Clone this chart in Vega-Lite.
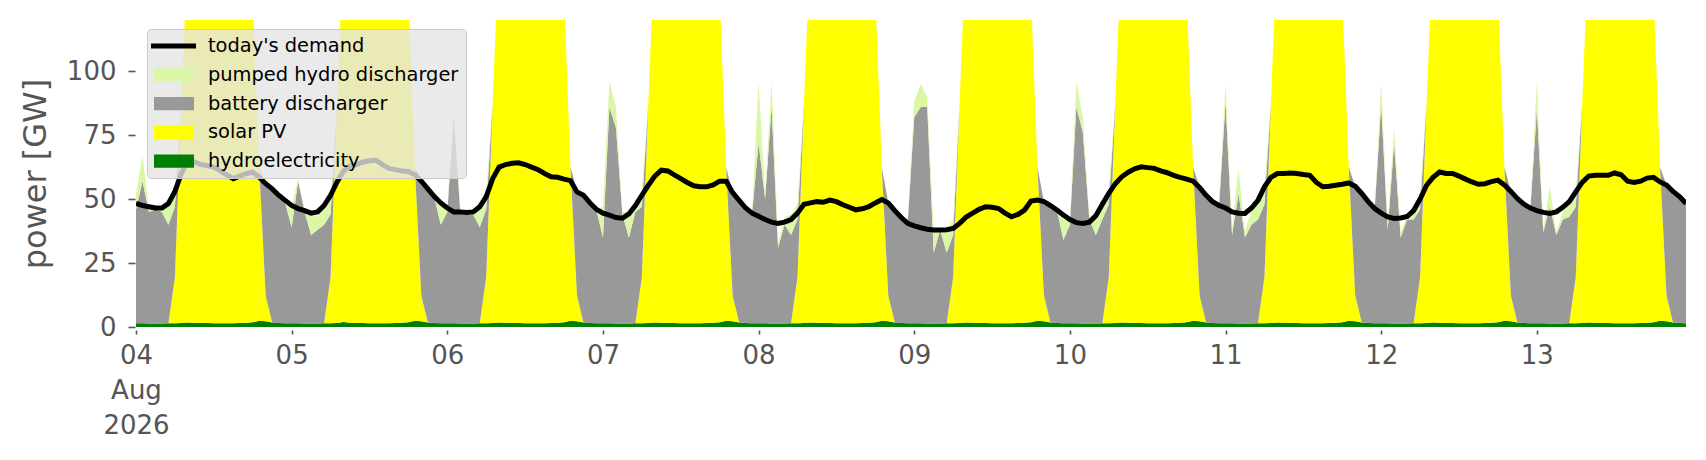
{
  "$schema": "https://vega.github.io/schema/vega-lite/v6.json",
  "width": 1550,
  "height": 307,
  "autosize": {"type": "none"},
  "padding": {"left": 136, "top": 20, "right": 20, "bottom": 133},
  "background": "white",
  "config": {"view": {"stroke": null}, "font": "DejaVu Sans"},
  "data": {
    "values": [
      {"t":"2026-08-04T00:00","a_hydro":1.5,"b_solar":0,"c_battery":44.5,"d_pumped":6,"demand":48.3},
      {"t":"2026-08-04T01:00","a_hydro":1.5,"b_solar":0,"c_battery":55.5,"d_pumped":10,"demand":47.5},
      {"t":"2026-08-04T02:00","a_hydro":1.4,"b_solar":0,"c_battery":43.6,"d_pumped":1,"demand":47},
      {"t":"2026-08-04T03:00","a_hydro":1.4,"b_solar":0,"c_battery":44.6,"d_pumped":0.5,"demand":46.5},
      {"t":"2026-08-04T04:00","a_hydro":1.4,"b_solar":0,"c_battery":43.6,"d_pumped":1,"demand":46.5},
      {"t":"2026-08-04T05:00","a_hydro":1.5,"b_solar":0,"c_battery":38.5,"d_pumped":8,"demand":48.3},
      {"t":"2026-08-04T06:00","a_hydro":1.5,"b_solar":18,"c_battery":27.5,"d_pumped":7,"demand":53},
      {"t":"2026-08-04T07:00","a_hydro":1.6,"b_solar":86,"c_battery":0,"d_pumped":0,"demand":60},
      {"t":"2026-08-04T08:00","a_hydro":1.8,"b_solar":150,"c_battery":0,"d_pumped":0,"demand":65},
      {"t":"2026-08-04T09:00","a_hydro":1.7,"b_solar":180,"c_battery":0,"d_pumped":0,"demand":64.5},
      {"t":"2026-08-04T10:00","a_hydro":1.6,"b_solar":200,"c_battery":0,"d_pumped":0,"demand":63.5},
      {"t":"2026-08-04T11:00","a_hydro":1.6,"b_solar":210,"c_battery":0,"d_pumped":0,"demand":63},
      {"t":"2026-08-04T12:00","a_hydro":1.5,"b_solar":212,"c_battery":0,"d_pumped":0,"demand":62.5},
      {"t":"2026-08-04T13:00","a_hydro":1.5,"b_solar":205,"c_battery":0,"d_pumped":0,"demand":61},
      {"t":"2026-08-04T14:00","a_hydro":1.5,"b_solar":192,"c_battery":0,"d_pumped":0,"demand":59.5},
      {"t":"2026-08-04T15:00","a_hydro":1.5,"b_solar":176,"c_battery":0,"d_pumped":0,"demand":58},
      {"t":"2026-08-04T16:00","a_hydro":1.6,"b_solar":160,"c_battery":0,"d_pumped":0,"demand":59},
      {"t":"2026-08-04T17:00","a_hydro":1.7,"b_solar":145,"c_battery":0,"d_pumped":0,"demand":60},
      {"t":"2026-08-04T18:00","a_hydro":1.9,"b_solar":128,"c_battery":0,"d_pumped":0,"demand":60.5},
      {"t":"2026-08-04T19:00","a_hydro":2.4,"b_solar":60,"c_battery":0,"d_pumped":0,"demand":58.5},
      {"t":"2026-08-04T20:00","a_hydro":2.2,"b_solar":10,"c_battery":43.3,"d_pumped":0.5,"demand":56},
      {"t":"2026-08-04T21:00","a_hydro":1.8,"b_solar":0,"c_battery":51.2,"d_pumped":0.5,"demand":54},
      {"t":"2026-08-04T22:00","a_hydro":1.6,"b_solar":0,"c_battery":49.4,"d_pumped":0.5,"demand":51.5},
      {"t":"2026-08-04T23:00","a_hydro":1.5,"b_solar":0,"c_battery":47,"d_pumped":1,"demand":49.5},
      {"t":"2026-08-05T00:00","a_hydro":1.5,"b_solar":0,"c_battery":37.5,"d_pumped":8,"demand":47.5},
      {"t":"2026-08-05T01:00","a_hydro":1.5,"b_solar":0,"c_battery":55.5,"d_pumped":1,"demand":46.3},
      {"t":"2026-08-05T02:00","a_hydro":1.4,"b_solar":0,"c_battery":43.6,"d_pumped":0.5,"demand":45.5},
      {"t":"2026-08-05T03:00","a_hydro":1.4,"b_solar":0,"c_battery":34.6,"d_pumped":8,"demand":44.5},
      {"t":"2026-08-05T04:00","a_hydro":1.4,"b_solar":0,"c_battery":36.6,"d_pumped":5,"demand":45},
      {"t":"2026-08-05T05:00","a_hydro":1.5,"b_solar":0,"c_battery":38.5,"d_pumped":8,"demand":47.5},
      {"t":"2026-08-05T06:00","a_hydro":1.5,"b_solar":18,"c_battery":24.5,"d_pumped":6,"demand":51.5},
      {"t":"2026-08-05T07:00","a_hydro":1.6,"b_solar":86,"c_battery":0,"d_pumped":0,"demand":56.7},
      {"t":"2026-08-05T08:00","a_hydro":2.0,"b_solar":148,"c_battery":0,"d_pumped":0,"demand":61},
      {"t":"2026-08-05T09:00","a_hydro":1.7,"b_solar":178,"c_battery":0,"d_pumped":0,"demand":63},
      {"t":"2026-08-05T10:00","a_hydro":1.6,"b_solar":198,"c_battery":0,"d_pumped":0,"demand":63.5},
      {"t":"2026-08-05T11:00","a_hydro":1.6,"b_solar":208,"c_battery":0,"d_pumped":0,"demand":64.5},
      {"t":"2026-08-05T12:00","a_hydro":1.5,"b_solar":210,"c_battery":0,"d_pumped":0,"demand":65},
      {"t":"2026-08-05T13:00","a_hydro":1.5,"b_solar":204,"c_battery":0,"d_pumped":0,"demand":65.2},
      {"t":"2026-08-05T14:00","a_hydro":1.5,"b_solar":190,"c_battery":0,"d_pumped":0,"demand":63.5},
      {"t":"2026-08-05T15:00","a_hydro":1.5,"b_solar":175,"c_battery":0,"d_pumped":0,"demand":62},
      {"t":"2026-08-05T16:00","a_hydro":1.6,"b_solar":160,"c_battery":0,"d_pumped":0,"demand":61.5},
      {"t":"2026-08-05T17:00","a_hydro":1.7,"b_solar":145,"c_battery":0,"d_pumped":0,"demand":61},
      {"t":"2026-08-05T18:00","a_hydro":1.9,"b_solar":128,"c_battery":0,"d_pumped":0,"demand":60.8},
      {"t":"2026-08-05T19:00","a_hydro":2.4,"b_solar":60,"c_battery":0,"d_pumped":0,"demand":59.5},
      {"t":"2026-08-05T20:00","a_hydro":2.2,"b_solar":10,"c_battery":44.8,"d_pumped":0.5,"demand":57},
      {"t":"2026-08-05T21:00","a_hydro":1.8,"b_solar":0,"c_battery":52.2,"d_pumped":0.5,"demand":54},
      {"t":"2026-08-05T22:00","a_hydro":1.6,"b_solar":0,"c_battery":48.9,"d_pumped":0.5,"demand":51},
      {"t":"2026-08-05T23:00","a_hydro":1.5,"b_solar":0,"c_battery":38.5,"d_pumped":8,"demand":48.5},
      {"t":"2026-08-06T00:00","a_hydro":1.5,"b_solar":0,"c_battery":43.5,"d_pumped":2,"demand":46.5},
      {"t":"2026-08-06T01:00","a_hydro":1.5,"b_solar":0,"c_battery":81.5,"d_pumped":2,"demand":45},
      {"t":"2026-08-06T02:00","a_hydro":1.4,"b_solar":0,"c_battery":43.6,"d_pumped":1,"demand":45},
      {"t":"2026-08-06T03:00","a_hydro":1.4,"b_solar":0,"c_battery":42.6,"d_pumped":1,"demand":44.8},
      {"t":"2026-08-06T04:00","a_hydro":1.4,"b_solar":0,"c_battery":42.6,"d_pumped":1.5,"demand":45},
      {"t":"2026-08-06T05:00","a_hydro":1.5,"b_solar":0,"c_battery":37.5,"d_pumped":9,"demand":47},
      {"t":"2026-08-06T06:00","a_hydro":1.5,"b_solar":18,"c_battery":26.5,"d_pumped":6,"demand":51},
      {"t":"2026-08-06T07:00","a_hydro":1.6,"b_solar":86,"c_battery":0,"d_pumped":0,"demand":58},
      {"t":"2026-08-06T08:00","a_hydro":1.8,"b_solar":150,"c_battery":0,"d_pumped":0,"demand":62.5},
      {"t":"2026-08-06T09:00","a_hydro":1.7,"b_solar":182,"c_battery":0,"d_pumped":0,"demand":63.5},
      {"t":"2026-08-06T10:00","a_hydro":1.6,"b_solar":202,"c_battery":0,"d_pumped":0,"demand":64},
      {"t":"2026-08-06T11:00","a_hydro":1.6,"b_solar":212,"c_battery":0,"d_pumped":0,"demand":64.2},
      {"t":"2026-08-06T12:00","a_hydro":1.5,"b_solar":214,"c_battery":0,"d_pumped":0,"demand":63.5},
      {"t":"2026-08-06T13:00","a_hydro":1.5,"b_solar":206,"c_battery":0,"d_pumped":0,"demand":62.5},
      {"t":"2026-08-06T14:00","a_hydro":1.5,"b_solar":193,"c_battery":0,"d_pumped":0,"demand":61.5},
      {"t":"2026-08-06T15:00","a_hydro":1.5,"b_solar":177,"c_battery":0,"d_pumped":0,"demand":60},
      {"t":"2026-08-06T16:00","a_hydro":1.6,"b_solar":161,"c_battery":0,"d_pumped":0,"demand":58.7},
      {"t":"2026-08-06T17:00","a_hydro":1.7,"b_solar":146,"c_battery":0,"d_pumped":0,"demand":58.5},
      {"t":"2026-08-06T18:00","a_hydro":1.9,"b_solar":128,"c_battery":0,"d_pumped":0,"demand":57.8},
      {"t":"2026-08-06T19:00","a_hydro":2.4,"b_solar":60,"c_battery":0,"d_pumped":0,"demand":57.2},
      {"t":"2026-08-06T20:00","a_hydro":2.2,"b_solar":10,"c_battery":40.8,"d_pumped":0.5,"demand":52.8},
      {"t":"2026-08-06T21:00","a_hydro":1.8,"b_solar":0,"c_battery":49.2,"d_pumped":0.5,"demand":51.5},
      {"t":"2026-08-06T22:00","a_hydro":1.6,"b_solar":0,"c_battery":46.4,"d_pumped":0.5,"demand":48.5},
      {"t":"2026-08-06T23:00","a_hydro":1.5,"b_solar":0,"c_battery":44,"d_pumped":0.5,"demand":46},
      {"t":"2026-08-07T00:00","a_hydro":1.5,"b_solar":0,"c_battery":33.5,"d_pumped":12,"demand":44.5},
      {"t":"2026-08-07T01:00","a_hydro":1.5,"b_solar":0,"c_battery":84.5,"d_pumped":10,"demand":43.7},
      {"t":"2026-08-07T02:00","a_hydro":1.4,"b_solar":0,"c_battery":76.6,"d_pumped":8,"demand":42.8},
      {"t":"2026-08-07T03:00","a_hydro":1.4,"b_solar":0,"c_battery":42.6,"d_pumped":1,"demand":42.5},
      {"t":"2026-08-07T04:00","a_hydro":1.4,"b_solar":0,"c_battery":33.6,"d_pumped":10,"demand":44.2},
      {"t":"2026-08-07T05:00","a_hydro":1.5,"b_solar":0,"c_battery":43.5,"d_pumped":4,"demand":47.5},
      {"t":"2026-08-07T06:00","a_hydro":1.5,"b_solar":18,"c_battery":27.5,"d_pumped":6,"demand":51.5},
      {"t":"2026-08-07T07:00","a_hydro":1.6,"b_solar":86,"c_battery":0,"d_pumped":0,"demand":55.4},
      {"t":"2026-08-07T08:00","a_hydro":1.8,"b_solar":150,"c_battery":0,"d_pumped":0,"demand":59},
      {"t":"2026-08-07T09:00","a_hydro":1.7,"b_solar":180,"c_battery":0,"d_pumped":0,"demand":61.3},
      {"t":"2026-08-07T10:00","a_hydro":1.6,"b_solar":200,"c_battery":0,"d_pumped":0,"demand":61},
      {"t":"2026-08-07T11:00","a_hydro":1.6,"b_solar":210,"c_battery":0,"d_pumped":0,"demand":59.5},
      {"t":"2026-08-07T12:00","a_hydro":1.5,"b_solar":212,"c_battery":0,"d_pumped":0,"demand":58},
      {"t":"2026-08-07T13:00","a_hydro":1.5,"b_solar":205,"c_battery":0,"d_pumped":0,"demand":56.5},
      {"t":"2026-08-07T14:00","a_hydro":1.5,"b_solar":192,"c_battery":0,"d_pumped":0,"demand":55.2},
      {"t":"2026-08-07T15:00","a_hydro":1.5,"b_solar":176,"c_battery":0,"d_pumped":0,"demand":54.8},
      {"t":"2026-08-07T16:00","a_hydro":1.6,"b_solar":160,"c_battery":0,"d_pumped":0,"demand":54.8},
      {"t":"2026-08-07T17:00","a_hydro":1.7,"b_solar":145,"c_battery":0,"d_pumped":0,"demand":55.5},
      {"t":"2026-08-07T18:00","a_hydro":1.9,"b_solar":128,"c_battery":0,"d_pumped":0,"demand":57},
      {"t":"2026-08-07T19:00","a_hydro":2.4,"b_solar":60,"c_battery":0,"d_pumped":0,"demand":57},
      {"t":"2026-08-07T20:00","a_hydro":2.2,"b_solar":10,"c_battery":40.3,"d_pumped":0.5,"demand":52.5},
      {"t":"2026-08-07T21:00","a_hydro":1.8,"b_solar":0,"c_battery":47.7,"d_pumped":0.5,"demand":49.5},
      {"t":"2026-08-07T22:00","a_hydro":1.6,"b_solar":0,"c_battery":44.9,"d_pumped":0.5,"demand":46.5},
      {"t":"2026-08-07T23:00","a_hydro":1.5,"b_solar":0,"c_battery":43,"d_pumped":0.5,"demand":44.5},
      {"t":"2026-08-08T00:00","a_hydro":1.5,"b_solar":0,"c_battery":70.5,"d_pumped":24,"demand":43.3},
      {"t":"2026-08-08T01:00","a_hydro":1.5,"b_solar":0,"c_battery":48.5,"d_pumped":2,"demand":42},
      {"t":"2026-08-08T02:00","a_hydro":1.4,"b_solar":0,"c_battery":84.6,"d_pumped":10,"demand":41},
      {"t":"2026-08-08T03:00","a_hydro":1.4,"b_solar":0,"c_battery":29.6,"d_pumped":2,"demand":40.5},
      {"t":"2026-08-08T04:00","a_hydro":1.4,"b_solar":0,"c_battery":38.6,"d_pumped":3,"demand":41},
      {"t":"2026-08-08T05:00","a_hydro":1.5,"b_solar":0,"c_battery":34.5,"d_pumped":8,"demand":42},
      {"t":"2026-08-08T06:00","a_hydro":1.5,"b_solar":18,"c_battery":22.5,"d_pumped":6,"demand":44.5},
      {"t":"2026-08-08T07:00","a_hydro":1.6,"b_solar":86,"c_battery":0,"d_pumped":0,"demand":48},
      {"t":"2026-08-08T08:00","a_hydro":1.8,"b_solar":150,"c_battery":0,"d_pumped":0,"demand":48.5},
      {"t":"2026-08-08T09:00","a_hydro":1.7,"b_solar":180,"c_battery":0,"d_pumped":0,"demand":49},
      {"t":"2026-08-08T10:00","a_hydro":1.6,"b_solar":200,"c_battery":0,"d_pumped":0,"demand":48.8},
      {"t":"2026-08-08T11:00","a_hydro":1.6,"b_solar":210,"c_battery":0,"d_pumped":0,"demand":49.6},
      {"t":"2026-08-08T12:00","a_hydro":1.5,"b_solar":212,"c_battery":0,"d_pumped":0,"demand":49},
      {"t":"2026-08-08T13:00","a_hydro":1.5,"b_solar":205,"c_battery":0,"d_pumped":0,"demand":47.8},
      {"t":"2026-08-08T14:00","a_hydro":1.5,"b_solar":192,"c_battery":0,"d_pumped":0,"demand":46.8},
      {"t":"2026-08-08T15:00","a_hydro":1.5,"b_solar":176,"c_battery":0,"d_pumped":0,"demand":45.8},
      {"t":"2026-08-08T16:00","a_hydro":1.6,"b_solar":160,"c_battery":0,"d_pumped":0,"demand":46.2},
      {"t":"2026-08-08T17:00","a_hydro":1.7,"b_solar":145,"c_battery":0,"d_pumped":0,"demand":47},
      {"t":"2026-08-08T18:00","a_hydro":1.9,"b_solar":128,"c_battery":0,"d_pumped":0,"demand":48.5},
      {"t":"2026-08-08T19:00","a_hydro":2.4,"b_solar":60,"c_battery":0,"d_pumped":0,"demand":49.8},
      {"t":"2026-08-08T20:00","a_hydro":2.2,"b_solar":10,"c_battery":36.3,"d_pumped":0.5,"demand":48.5},
      {"t":"2026-08-08T21:00","a_hydro":1.8,"b_solar":0,"c_battery":43.2,"d_pumped":0.5,"demand":45.5},
      {"t":"2026-08-08T22:00","a_hydro":1.6,"b_solar":0,"c_battery":41.2,"d_pumped":0.5,"demand":42.8},
      {"t":"2026-08-08T23:00","a_hydro":1.5,"b_solar":0,"c_battery":39.5,"d_pumped":0.5,"demand":40.5},
      {"t":"2026-08-09T00:00","a_hydro":1.5,"b_solar":0,"c_battery":80.5,"d_pumped":6,"demand":39.5},
      {"t":"2026-08-09T01:00","a_hydro":1.5,"b_solar":0,"c_battery":84.5,"d_pumped":9,"demand":38.8},
      {"t":"2026-08-09T02:00","a_hydro":1.4,"b_solar":0,"c_battery":84.6,"d_pumped":4,"demand":38.2},
      {"t":"2026-08-09T03:00","a_hydro":1.4,"b_solar":0,"c_battery":27.6,"d_pumped":9,"demand":37.9},
      {"t":"2026-08-09T04:00","a_hydro":1.4,"b_solar":0,"c_battery":36.6,"d_pumped":1,"demand":37.9},
      {"t":"2026-08-09T05:00","a_hydro":1.5,"b_solar":0,"c_battery":27.5,"d_pumped":9,"demand":38},
      {"t":"2026-08-09T06:00","a_hydro":1.5,"b_solar":18,"c_battery":16.5,"d_pumped":6,"demand":38.5},
      {"t":"2026-08-09T07:00","a_hydro":1.6,"b_solar":86,"c_battery":0,"d_pumped":0,"demand":40.5},
      {"t":"2026-08-09T08:00","a_hydro":1.8,"b_solar":150,"c_battery":0,"d_pumped":0,"demand":43},
      {"t":"2026-08-09T09:00","a_hydro":1.7,"b_solar":180,"c_battery":0,"d_pumped":0,"demand":44.5},
      {"t":"2026-08-09T10:00","a_hydro":1.6,"b_solar":200,"c_battery":0,"d_pumped":0,"demand":46},
      {"t":"2026-08-09T11:00","a_hydro":1.6,"b_solar":210,"c_battery":0,"d_pumped":0,"demand":47},
      {"t":"2026-08-09T12:00","a_hydro":1.5,"b_solar":212,"c_battery":0,"d_pumped":0,"demand":46.8},
      {"t":"2026-08-09T13:00","a_hydro":1.5,"b_solar":205,"c_battery":0,"d_pumped":0,"demand":46.3},
      {"t":"2026-08-09T14:00","a_hydro":1.5,"b_solar":192,"c_battery":0,"d_pumped":0,"demand":44.5},
      {"t":"2026-08-09T15:00","a_hydro":1.5,"b_solar":176,"c_battery":0,"d_pumped":0,"demand":43.1},
      {"t":"2026-08-09T16:00","a_hydro":1.6,"b_solar":160,"c_battery":0,"d_pumped":0,"demand":44},
      {"t":"2026-08-09T17:00","a_hydro":1.7,"b_solar":145,"c_battery":0,"d_pumped":0,"demand":45.7},
      {"t":"2026-08-09T18:00","a_hydro":1.9,"b_solar":128,"c_battery":0,"d_pumped":0,"demand":49.2},
      {"t":"2026-08-09T19:00","a_hydro":2.4,"b_solar":60,"c_battery":0,"d_pumped":0,"demand":49.6},
      {"t":"2026-08-09T20:00","a_hydro":2.2,"b_solar":10,"c_battery":36.8,"d_pumped":0.5,"demand":49},
      {"t":"2026-08-09T21:00","a_hydro":1.8,"b_solar":0,"c_battery":45.7,"d_pumped":0.5,"demand":47.5},
      {"t":"2026-08-09T22:00","a_hydro":1.6,"b_solar":0,"c_battery":44.1,"d_pumped":0.5,"demand":45.7},
      {"t":"2026-08-09T23:00","a_hydro":1.5,"b_solar":0,"c_battery":32.5,"d_pumped":8,"demand":43.8},
      {"t":"2026-08-10T00:00","a_hydro":1.5,"b_solar":0,"c_battery":38.5,"d_pumped":1.5,"demand":42},
      {"t":"2026-08-10T01:00","a_hydro":1.5,"b_solar":0,"c_battery":84.5,"d_pumped":10,"demand":40.8},
      {"t":"2026-08-10T02:00","a_hydro":1.4,"b_solar":0,"c_battery":74.6,"d_pumped":6,"demand":40.5},
      {"t":"2026-08-10T03:00","a_hydro":1.4,"b_solar":0,"c_battery":40.6,"d_pumped":1,"demand":41},
      {"t":"2026-08-10T04:00","a_hydro":1.4,"b_solar":0,"c_battery":34.6,"d_pumped":9,"demand":43.5},
      {"t":"2026-08-10T05:00","a_hydro":1.5,"b_solar":0,"c_battery":40.5,"d_pumped":5,"demand":48},
      {"t":"2026-08-10T06:00","a_hydro":1.5,"b_solar":18,"c_battery":28.5,"d_pumped":6,"demand":52.2},
      {"t":"2026-08-10T07:00","a_hydro":1.6,"b_solar":86,"c_battery":0,"d_pumped":0,"demand":56},
      {"t":"2026-08-10T08:00","a_hydro":1.8,"b_solar":150,"c_battery":0,"d_pumped":0,"demand":58.7},
      {"t":"2026-08-10T09:00","a_hydro":1.7,"b_solar":180,"c_battery":0,"d_pumped":0,"demand":60.5},
      {"t":"2026-08-10T10:00","a_hydro":1.6,"b_solar":200,"c_battery":0,"d_pumped":0,"demand":61.8},
      {"t":"2026-08-10T11:00","a_hydro":1.6,"b_solar":210,"c_battery":0,"d_pumped":0,"demand":62.6},
      {"t":"2026-08-10T12:00","a_hydro":1.5,"b_solar":212,"c_battery":0,"d_pumped":0,"demand":62.3},
      {"t":"2026-08-10T13:00","a_hydro":1.5,"b_solar":205,"c_battery":0,"d_pumped":0,"demand":62},
      {"t":"2026-08-10T14:00","a_hydro":1.5,"b_solar":192,"c_battery":0,"d_pumped":0,"demand":61},
      {"t":"2026-08-10T15:00","a_hydro":1.5,"b_solar":176,"c_battery":0,"d_pumped":0,"demand":60.3},
      {"t":"2026-08-10T16:00","a_hydro":1.6,"b_solar":160,"c_battery":0,"d_pumped":0,"demand":59.3},
      {"t":"2026-08-10T17:00","a_hydro":1.7,"b_solar":145,"c_battery":0,"d_pumped":0,"demand":58.5},
      {"t":"2026-08-10T18:00","a_hydro":1.9,"b_solar":128,"c_battery":0,"d_pumped":0,"demand":57.8},
      {"t":"2026-08-10T19:00","a_hydro":2.4,"b_solar":60,"c_battery":0,"d_pumped":0,"demand":57},
      {"t":"2026-08-10T20:00","a_hydro":2.2,"b_solar":10,"c_battery":42.3,"d_pumped":0.5,"demand":54.5},
      {"t":"2026-08-10T21:00","a_hydro":1.8,"b_solar":0,"c_battery":49.7,"d_pumped":0.5,"demand":51.5},
      {"t":"2026-08-10T22:00","a_hydro":1.6,"b_solar":0,"c_battery":47.4,"d_pumped":0.5,"demand":49},
      {"t":"2026-08-10T23:00","a_hydro":1.5,"b_solar":0,"c_battery":45.5,"d_pumped":0.5,"demand":47.5},
      {"t":"2026-08-11T00:00","a_hydro":1.5,"b_solar":0,"c_battery":86.5,"d_pumped":7,"demand":46.5},
      {"t":"2026-08-11T01:00","a_hydro":1.5,"b_solar":0,"c_battery":34.5,"d_pumped":2,"demand":45},
      {"t":"2026-08-11T02:00","a_hydro":1.4,"b_solar":0,"c_battery":50.6,"d_pumped":10,"demand":44.5},
      {"t":"2026-08-11T03:00","a_hydro":1.4,"b_solar":0,"c_battery":33.6,"d_pumped":2,"demand":44.4},
      {"t":"2026-08-11T04:00","a_hydro":1.4,"b_solar":0,"c_battery":38.6,"d_pumped":6,"demand":46.5},
      {"t":"2026-08-11T05:00","a_hydro":1.5,"b_solar":0,"c_battery":40.5,"d_pumped":6,"demand":49.5},
      {"t":"2026-08-11T06:00","a_hydro":1.5,"b_solar":18,"c_battery":28.5,"d_pumped":7,"demand":54.8},
      {"t":"2026-08-11T07:00","a_hydro":1.6,"b_solar":86,"c_battery":0,"d_pumped":0,"demand":58.5},
      {"t":"2026-08-11T08:00","a_hydro":1.8,"b_solar":150,"c_battery":0,"d_pumped":0,"demand":60},
      {"t":"2026-08-11T09:00","a_hydro":1.7,"b_solar":180,"c_battery":0,"d_pumped":0,"demand":60},
      {"t":"2026-08-11T10:00","a_hydro":1.6,"b_solar":200,"c_battery":0,"d_pumped":0,"demand":60.2},
      {"t":"2026-08-11T11:00","a_hydro":1.6,"b_solar":210,"c_battery":0,"d_pumped":0,"demand":60},
      {"t":"2026-08-11T12:00","a_hydro":1.5,"b_solar":212,"c_battery":0,"d_pumped":0,"demand":59.6},
      {"t":"2026-08-11T13:00","a_hydro":1.5,"b_solar":205,"c_battery":0,"d_pumped":0,"demand":59.3},
      {"t":"2026-08-11T14:00","a_hydro":1.5,"b_solar":192,"c_battery":0,"d_pumped":0,"demand":56.5},
      {"t":"2026-08-11T15:00","a_hydro":1.5,"b_solar":176,"c_battery":0,"d_pumped":0,"demand":54.8},
      {"t":"2026-08-11T16:00","a_hydro":1.6,"b_solar":160,"c_battery":0,"d_pumped":0,"demand":55},
      {"t":"2026-08-11T17:00","a_hydro":1.7,"b_solar":145,"c_battery":0,"d_pumped":0,"demand":55.4},
      {"t":"2026-08-11T18:00","a_hydro":1.9,"b_solar":128,"c_battery":0,"d_pumped":0,"demand":55.8},
      {"t":"2026-08-11T19:00","a_hydro":2.4,"b_solar":60,"c_battery":0,"d_pumped":0,"demand":56.3},
      {"t":"2026-08-11T20:00","a_hydro":2.2,"b_solar":10,"c_battery":42.8,"d_pumped":0.5,"demand":55},
      {"t":"2026-08-11T21:00","a_hydro":1.8,"b_solar":0,"c_battery":50.2,"d_pumped":0.5,"demand":52.2},
      {"t":"2026-08-11T22:00","a_hydro":1.6,"b_solar":0,"c_battery":47.4,"d_pumped":0.5,"demand":49},
      {"t":"2026-08-11T23:00","a_hydro":1.5,"b_solar":0,"c_battery":44.5,"d_pumped":0.5,"demand":46.3},
      {"t":"2026-08-12T00:00","a_hydro":1.5,"b_solar":0,"c_battery":85.5,"d_pumped":9,"demand":44.5},
      {"t":"2026-08-12T01:00","a_hydro":1.5,"b_solar":0,"c_battery":36.5,"d_pumped":2,"demand":43},
      {"t":"2026-08-12T02:00","a_hydro":1.4,"b_solar":0,"c_battery":70.6,"d_pumped":6,"demand":42.4},
      {"t":"2026-08-12T03:00","a_hydro":1.4,"b_solar":0,"c_battery":33.6,"d_pumped":2,"demand":42.6},
      {"t":"2026-08-12T04:00","a_hydro":1.4,"b_solar":0,"c_battery":40.6,"d_pumped":2,"demand":43.2},
      {"t":"2026-08-12T05:00","a_hydro":1.5,"b_solar":0,"c_battery":40.5,"d_pumped":5,"demand":45.5},
      {"t":"2026-08-12T06:00","a_hydro":1.5,"b_solar":18,"c_battery":26.5,"d_pumped":6,"demand":50},
      {"t":"2026-08-12T07:00","a_hydro":1.6,"b_solar":86,"c_battery":0,"d_pumped":0,"demand":55.4},
      {"t":"2026-08-12T08:00","a_hydro":1.8,"b_solar":150,"c_battery":0,"d_pumped":0,"demand":58.5},
      {"t":"2026-08-12T09:00","a_hydro":1.7,"b_solar":180,"c_battery":0,"d_pumped":0,"demand":60.6},
      {"t":"2026-08-12T10:00","a_hydro":1.6,"b_solar":200,"c_battery":0,"d_pumped":0,"demand":60},
      {"t":"2026-08-12T11:00","a_hydro":1.6,"b_solar":210,"c_battery":0,"d_pumped":0,"demand":60},
      {"t":"2026-08-12T12:00","a_hydro":1.5,"b_solar":212,"c_battery":0,"d_pumped":0,"demand":59},
      {"t":"2026-08-12T13:00","a_hydro":1.5,"b_solar":205,"c_battery":0,"d_pumped":0,"demand":57.8},
      {"t":"2026-08-12T14:00","a_hydro":1.5,"b_solar":192,"c_battery":0,"d_pumped":0,"demand":56.7},
      {"t":"2026-08-12T15:00","a_hydro":1.5,"b_solar":176,"c_battery":0,"d_pumped":0,"demand":55.8},
      {"t":"2026-08-12T16:00","a_hydro":1.6,"b_solar":160,"c_battery":0,"d_pumped":0,"demand":56},
      {"t":"2026-08-12T17:00","a_hydro":1.7,"b_solar":145,"c_battery":0,"d_pumped":0,"demand":56.8},
      {"t":"2026-08-12T18:00","a_hydro":1.9,"b_solar":128,"c_battery":0,"d_pumped":0,"demand":57.4},
      {"t":"2026-08-12T19:00","a_hydro":2.4,"b_solar":60,"c_battery":0,"d_pumped":0,"demand":55.5},
      {"t":"2026-08-12T20:00","a_hydro":2.2,"b_solar":10,"c_battery":40.8,"d_pumped":0.5,"demand":53},
      {"t":"2026-08-12T21:00","a_hydro":1.8,"b_solar":0,"c_battery":48.2,"d_pumped":0.5,"demand":50.2},
      {"t":"2026-08-12T22:00","a_hydro":1.6,"b_solar":0,"c_battery":46.4,"d_pumped":0.5,"demand":48},
      {"t":"2026-08-12T23:00","a_hydro":1.5,"b_solar":0,"c_battery":44.5,"d_pumped":0.5,"demand":46.5},
      {"t":"2026-08-13T00:00","a_hydro":1.5,"b_solar":0,"c_battery":83.5,"d_pumped":11,"demand":45.5},
      {"t":"2026-08-13T01:00","a_hydro":1.5,"b_solar":0,"c_battery":35.5,"d_pumped":1,"demand":44.8},
      {"t":"2026-08-13T02:00","a_hydro":1.4,"b_solar":0,"c_battery":45.6,"d_pumped":8,"demand":44.4},
      {"t":"2026-08-13T03:00","a_hydro":1.4,"b_solar":0,"c_battery":34.6,"d_pumped":1,"demand":45},
      {"t":"2026-08-13T04:00","a_hydro":1.4,"b_solar":0,"c_battery":40.6,"d_pumped":3,"demand":46.8},
      {"t":"2026-08-13T05:00","a_hydro":1.5,"b_solar":0,"c_battery":41.5,"d_pumped":5,"demand":49},
      {"t":"2026-08-13T06:00","a_hydro":1.5,"b_solar":18,"c_battery":27.5,"d_pumped":6,"demand":52.8},
      {"t":"2026-08-13T07:00","a_hydro":1.6,"b_solar":86,"c_battery":0,"d_pumped":0,"demand":56.5},
      {"t":"2026-08-13T08:00","a_hydro":1.8,"b_solar":150,"c_battery":0,"d_pumped":0,"demand":59},
      {"t":"2026-08-13T09:00","a_hydro":1.7,"b_solar":180,"c_battery":0,"d_pumped":0,"demand":59.3},
      {"t":"2026-08-13T10:00","a_hydro":1.6,"b_solar":200,"c_battery":0,"d_pumped":0,"demand":59.3},
      {"t":"2026-08-13T11:00","a_hydro":1.6,"b_solar":210,"c_battery":0,"d_pumped":0,"demand":59.3},
      {"t":"2026-08-13T12:00","a_hydro":1.5,"b_solar":212,"c_battery":0,"d_pumped":0,"demand":60.2},
      {"t":"2026-08-13T13:00","a_hydro":1.5,"b_solar":205,"c_battery":0,"d_pumped":0,"demand":59.5},
      {"t":"2026-08-13T14:00","a_hydro":1.5,"b_solar":192,"c_battery":0,"d_pumped":0,"demand":57},
      {"t":"2026-08-13T15:00","a_hydro":1.5,"b_solar":176,"c_battery":0,"d_pumped":0,"demand":56.5},
      {"t":"2026-08-13T16:00","a_hydro":1.6,"b_solar":160,"c_battery":0,"d_pumped":0,"demand":57},
      {"t":"2026-08-13T17:00","a_hydro":1.7,"b_solar":145,"c_battery":0,"d_pumped":0,"demand":58.2},
      {"t":"2026-08-13T18:00","a_hydro":1.9,"b_solar":128,"c_battery":0,"d_pumped":0,"demand":58.5},
      {"t":"2026-08-13T19:00","a_hydro":2.4,"b_solar":60,"c_battery":0,"d_pumped":0,"demand":56.7},
      {"t":"2026-08-13T20:00","a_hydro":2.2,"b_solar":10,"c_battery":43.3,"d_pumped":0.5,"demand":55.5},
      {"t":"2026-08-13T21:00","a_hydro":1.8,"b_solar":0,"c_battery":51.2,"d_pumped":0.5,"demand":53},
      {"t":"2026-08-13T22:00","a_hydro":1.6,"b_solar":0,"c_battery":49.4,"d_pumped":0.5,"demand":51},
      {"t":"2026-08-13T23:00","a_hydro":1.5,"b_solar":0,"c_battery":46.8,"d_pumped":0.5,"demand":48.3}
    ]
  },
  "encoding": {
    "x": {
      "field": "t",
      "type": "temporal",
      "scale": {"nice": false},
      "axis": {
        "title": null,
        "grid": false,
        "domain": false,
        "tickCount": {"interval": "day", "step": 1},
        "labelExpr": "date(datum.value) == 4 ? [timeFormat(datum.value, '%d'), 'Aug', '2026'] : timeFormat(datum.value, '%d')",
        "labelFont": "DejaVu Sans",
        "labelFontSize": 26,
        "labelColor": "#555555",
        "labelLineHeight": 35,
        "labelPadding": 8,
        "labelFlush": false,
        "labelOverlap": false,
        "tickColor": "#555555",
        "tickWidth": 1.6,
        "tickSize": 4,
        "offset": 3
      }
    }
  },
  "layer": [
    {
      "transform": [
        {"fold": ["a_hydro", "b_solar", "c_battery", "d_pumped"], "as": ["source", "gw"]}
      ],
      "mark": {"type": "area", "clip": true, "interpolate": "linear"},
      "encoding": {
        "y": {
          "field": "gw",
          "type": "quantitative",
          "stack": "zero",
          "scale": {"domain": [0, 120], "nice": false},
          "axis": {
            "title": "power [GW]",
            "values": [0, 25, 50, 75, 100],
            "grid": false,
            "domain": false,
            "labelFont": "DejaVu Sans",
            "labelFontSize": 26,
            "labelColor": "#555555",
            "labelPadding": 12,
            "tickColor": "#555555",
            "tickWidth": 1.6,
            "tickSize": 7,
            "offset": 1,
            "titleFont": "DejaVu Sans",
            "titleFontSize": 32,
            "titleFontWeight": "normal",
            "titleColor": "#555555",
            "titlePadding": 14
          }
        },
        "color": {
          "field": "source",
          "type": "nominal",
          "scale": {
            "domain": ["demand", "d_pumped", "c_battery", "b_solar", "a_hydro"],
            "range": ["#000000", "#daf7a6", "#999999", "#ffff00", "#008000"]
          },
          "legend": {
            "orient": "none",
            "legendX": 11,
            "legendY": 9,
            "title": null,
            "labelExpr": "datum.label == 'demand' ? \"today's demand\" : datum.label == 'd_pumped' ? 'pumped hydro discharger' : datum.label == 'c_battery' ? 'battery discharger' : datum.label == 'b_solar' ? 'solar PV' : 'hydroelectricity'",
            "labelFont": "DejaVu Sans",
            "labelFontSize": 19.4,
            "labelColor": "#000000",
            "labelLimit": 0,
            "fillColor": "rgba(229,229,229,0.8)",
            "strokeColor": "#cccccc",
            "cornerRadius": 4,
            "padding": 7,
            "symbolSize": 400,
            "symbolOffset": 0,
            "labelOffset": 34,
            "rowPadding": 8.8,
            "symbolStrokeWidth": 0,
            "encode": {
              "symbols": {
                "update": {
                  "shape": {"signal": "datum.value == 'demand' ? 'M-1.3,-0.24H3.2V0.24H-1.3Z' : 'M-1,-0.66H3V0.66H-1Z'"},
                  "fill": {"scale": "color", "field": "value"},
                  "stroke": {"value": "transparent"},
                  "strokeWidth": {"value": 0},
                  "opacity": {"value": 1}
                }
              }
            }
          }
        },
        "order": {"sort": "ascending"}
      }
    },
    {
      "mark": {"type": "line", "strokeWidth": 5, "clip": true, "interpolate": "linear"},
      "encoding": {
        "y": {"field": "demand", "type": "quantitative"},
        "color": {"datum": "demand", "type": "nominal"}
      }
    }
  ]
}
